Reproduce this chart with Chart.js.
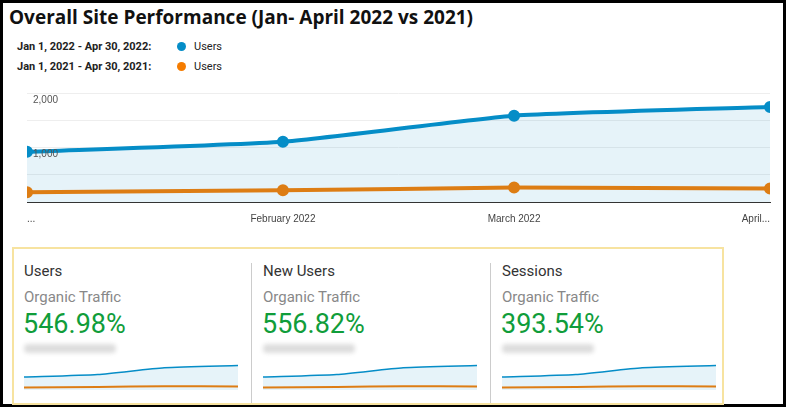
<!DOCTYPE html>
<html><head><meta charset="utf-8">
<script src="https://cdn.jsdelivr.net/npm/chart.js@4"></script>
<style>
body{margin:0;width:786px;height:407px;overflow:hidden;font-family:Roboto,sans-serif;background:#fff}
#frame{position:absolute;left:0;top:0;width:780px;height:401px;border:3px solid #000}
#title{position:absolute;left:9px;top:4px;font:bold 19px "Open Sans",sans-serif;color:#111}
.leg{position:absolute;left:17px;font-size:11px;color:#222}
.leg b{display:inline-block;width:160px}
.dot{display:inline-block;width:9px;height:9px;border-radius:50%;margin-right:8px;vertical-align:-1px}
#main{position:absolute;left:15px;top:76px;width:763px;height:152px}
#box{position:absolute;left:12px;top:247px;width:708px;height:154px;border:2px solid #f7e3a0}
.col{position:absolute;top:0;width:238px;height:154px}
.sep{position:absolute;top:14px;width:1px;height:140px;background:#ccc}
.h{position:absolute;left:10px;top:13px;font-size:15px;color:#333}
.s{position:absolute;left:10px;top:39px;font-size:15px;color:#888}
.v{position:absolute;left:9px;top:59px;font-size:27px;color:#109d3a}
.blur{position:absolute;left:10px;top:95px;width:92px;height:9px;background:#ddd;filter:blur(2px);border-radius:4px}
.sp{position:absolute;left:10px;top:113px;width:214px;height:28px}
</style></head><body>
<div id="frame"></div>
<div id="title">Overall Site Performance (Jan- April 2022 vs 2021)</div>
<div class="leg" style="top:40px"><b>Jan 1, 2022 - Apr 30, 2022:</b><span class="dot" style="background:#058dc7"></span>Users</div>
<div class="leg" style="top:60px"><b>Jan 1, 2021 - Apr 30, 2021:</b><span class="dot" style="background:#f57c00"></span>Users</div>
<div id="main"><canvas id="c"></canvas></div>
<div id="box"></div>
<script>
const days=[0,31,59,90];
const tickLabels={0:'...',31:'February 2022',59:'March 2022',90:'April...'};
const users2022=[925,1110,1590,1750];
const users2021=[180,215,265,250];
const metrics=['Users','New Users','Sessions'];
const subtitle='Organic Traffic';
const changes=['546.98%','556.82%','393.54%'];
const blue='#058dc7',orange='#f57c00';
const pts=a=>a.map((y,i)=>({x:days[i],y}));
new Chart(document.getElementById('c'),{type:'line',
data:{datasets:[
{data:pts(users2022),borderColor:blue,backgroundColor:'rgba(5,141,199,0.1)',fill:'origin',borderWidth:4,pointRadius:4,pointBackgroundColor:blue,tension:0.15},
{data:pts(users2021),borderColor:orange,backgroundColor:orange,borderWidth:4,pointRadius:4,pointBackgroundColor:orange,tension:0.15}]},
options:{animation:false,responsive:true,maintainAspectRatio:false,
layout:{padding:{left:0,right:6,top:0}},
plugins:{legend:{display:false},tooltip:{enabled:false}},
scales:{x:{type:'linear',min:0,max:90,afterBuildTicks:a=>{a.ticks=days.map(v=>({value:v}));},
ticks:{callback:v=>tickLabels[v],color:'#444',font:{size:10},maxRotation:0,autoSkip:false,align:'inner'},
grid:{display:false},border:{color:'#333'}},
y:{min:0,max:2100,afterBuildTicks:a=>{a.ticks=[0,250,500,750,1000,1250,1500,1750,2000].map(v=>({value:v}));},
ticks:{mirror:true,padding:6,z:1,labelOffset:7,color:'#555',font:{size:10},callback:v=>(v==1000||v==2000)?v.toLocaleString('en-US'):''},
grid:{color:'#eee',drawTicks:false},border:{display:false}}}}});
const box=document.getElementById('box');
metrics.forEach((m,i)=>{
const col=document.createElement('div');col.className='col';col.style.left=(i*239)+'px';
col.innerHTML=`<div class="h">${m}</div><div class="s">${subtitle}</div><div class="v">${changes[i]}</div><div class="blur"></div><div class="sp"><canvas id="s${i}"></canvas></div>`;
box.appendChild(col);
if(i>0){const s=document.createElement('div');s.className='sep';s.style.left=(i*239-2)+'px';box.appendChild(s);}
new Chart(document.getElementById('s'+i),{type:'line',
data:{datasets:[
{data:pts(users2022),borderColor:blue,backgroundColor:'rgba(5,141,199,0.1)',fill:'origin',borderWidth:1.5,pointRadius:0,tension:0.2},
{data:pts(users2021),borderColor:orange,borderWidth:2,pointRadius:0,tension:0.2}]},
options:{animation:false,responsive:true,maintainAspectRatio:false,
plugins:{legend:{display:false},tooltip:{enabled:false}},
scales:{x:{type:'linear',min:0,max:90,display:false},y:{min:0,max:2000,display:false}}}});
});
</script>
</body></html>
